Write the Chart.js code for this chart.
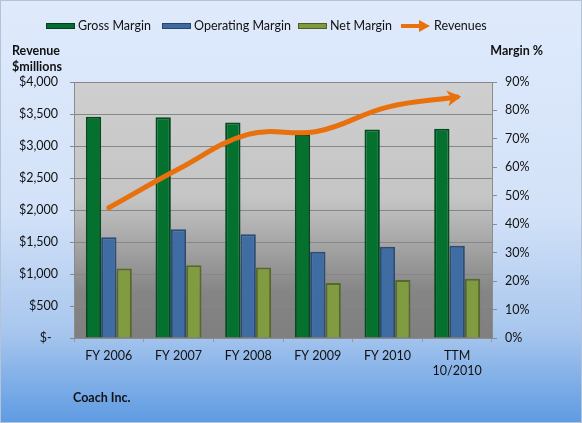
<!DOCTYPE html>
<html>
<head>
<meta charset="utf-8">
<script src="https://cdn.jsdelivr.net/npm/chart.js@4.4.1/dist/chart.umd.min.js"></script>
<style>
  html, body { margin: 0; padding: 0; background: #fff; }
  #wrap { width: 582px; height: 423px; }
</style>
</head>
<body>
<div id="wrap"><canvas id="chart" width="582" height="423"></canvas></div>
<script>
const categories = ['FY 2006', 'FY 2007', 'FY 2008', 'FY 2009', 'FY 2010', ['TTM', '10/2010']];
const grossMargin = [77.8, 77.6, 75.8, 71.7, 73.3, 73.6];
const operatingMargin = [35.4, 38.2, 36.5, 30.3, 32.1, 32.4];
const netMargin = [24.4, 25.6, 24.8, 19.3, 20.4, 20.8];
const revenues = [2035, 2640, 3181, 3230, 3608, 3766];

const FONT = 'Lato, "Open Sans", sans-serif';
const ORANGE = '#e8700d';

// background, titles and legend drawn by hand so they sit where the original has them
const decorPlugin = {
    id: 'decor',
    beforeDraw(chart) {
        const { ctx, width, height, chartArea: a } = chart;
        ctx.save();
        const bg = ctx.createLinearGradient(0, 0, 0, height);
        bg.addColorStop(0, '#dfeafc');
        bg.addColorStop(0.5, '#d3e2f8');
        bg.addColorStop(0.78, '#a9c7ee');
        bg.addColorStop(1, '#5e9be2');
        ctx.fillStyle = bg;
        ctx.fillRect(0, 0, width, height);
        ctx.strokeStyle = '#b4c3d6';
        ctx.lineWidth = 1;
        ctx.strokeRect(0.5, 0.5, width - 1, height - 1);

        const pg = ctx.createLinearGradient(0, a.top, 0, a.bottom);
        pg.addColorStop(0, '#cfcfcf');
        pg.addColorStop(0.45, '#c5c5c5');
        pg.addColorStop(0.82, '#858585');
        pg.addColorStop(1, '#7f7f7f');
        ctx.fillStyle = pg;
        ctx.fillRect(a.left, a.top, a.right - a.left, a.bottom - a.top);
        ctx.restore();
    },
    afterDraw(chart) {
        const { ctx } = chart;
        ctx.save();
        ctx.fillStyle = '#111';
        ctx.textBaseline = 'middle';
        ctx.font = 'bold 12.5px ' + FONT;
        ctx.textAlign = 'left';
        ctx.fillText('Revenue', 12, 51);
        ctx.fillText('$millions', 12, 67);
        ctx.fillText('Coach Inc.', 73, 398);
        ctx.textAlign = 'right';
        ctx.fillText('Margin %', 543, 51);

        // legend
        const items = [
            { x: 46, label: 'Gross Margin', fill: '#046d2f', edge: '#02401b' },
            { x: 162, label: 'Operating Margin', fill: '#3e6aa0', edge: '#27466e' },
            { x: 298, label: 'Net Margin', fill: '#80993f', edge: '#4f5f23' }
        ];
        ctx.font = '12.5px ' + FONT;
        ctx.textAlign = 'left';
        items.forEach(it => {
            ctx.fillStyle = it.fill;
            ctx.fillRect(it.x, 23, 29, 6);
            ctx.strokeStyle = it.edge;
            ctx.lineWidth = 1;
            ctx.strokeRect(it.x + 0.5, 23.5, 28, 5);
            ctx.fillStyle = '#111';
            ctx.fillText(it.label, it.x + 32, 26);
        });
        ctx.strokeStyle = ORANGE;
        ctx.lineWidth = 4;
        ctx.beginPath();
        ctx.moveTo(401, 26);
        ctx.lineTo(422, 26);
        ctx.stroke();
        ctx.fillStyle = ORANGE;
        ctx.beginPath();
        ctx.moveTo(430, 26);
        ctx.lineTo(419, 20);
        ctx.lineTo(419, 32);
        ctx.closePath();
        ctx.fill();
        ctx.fillStyle = '#111';
        ctx.fillText('Revenues', 434, 26);
        ctx.restore();
    }
};

// arrow head at the end of the revenue line
const arrowPlugin = {
    id: 'arrowHead',
    afterDatasetsDraw(chart) {
        const meta = chart.getDatasetMeta(0);
        const pts = meta.data;
        if (!pts.length) return;
        const last = pts[pts.length - 1];
        const cx = last.cp1x !== undefined ? last.cp1x : pts[pts.length - 2].x;
        const cy = last.cp1y !== undefined ? last.cp1y : pts[pts.length - 2].y;
        const ang = Math.atan2(last.y - cy, last.x - cx);
        const { ctx } = chart;
        const tipX = last.x + 4 * Math.cos(ang), tipY = last.y + 4 * Math.sin(ang);
        ctx.save();
        ctx.translate(tipX, tipY);
        ctx.rotate(ang);
        ctx.fillStyle = ORANGE;
        ctx.beginPath();
        ctx.moveTo(0, 0);
        ctx.lineTo(-14, -8);
        ctx.lineTo(-10, 0);
        ctx.lineTo(-14, 8);
        ctx.closePath();
        ctx.fill();
        ctx.restore();
    }
};

function barSet(label, data, fill, edge) {
    return {
        type: 'bar', label, data, yAxisID: 'yR', order: 1,
        backgroundColor: fill, borderColor: edge, borderWidth: 2,
        categoryPercentage: 0.66, barPercentage: 1.0
    };
}

new Chart(document.getElementById('chart').getContext('2d'), {
    data: {
        labels: categories,
        datasets: [
            {
                type: 'line', label: 'Revenues', data: revenues, yAxisID: 'yL', order: 0,
                borderColor: ORANGE, borderWidth: 5, tension: 0.4, pointRadius: 0,
                borderCapStyle: 'round', fill: false
            },
            barSet('Gross Margin', grossMargin, '#04712f', '#034a20'),
            barSet('Operating Margin', operatingMargin, '#3f6ca3', '#2b4c77'),
            barSet('Net Margin', netMargin, '#819c40', '#56692a')
        ]
    },
    options: {
        responsive: false,
        animation: false,
        layout: { padding: { top: 82, left: 0, right: 0, bottom: 0 } },
        plugins: { legend: { display: false }, tooltip: { enabled: false } },
        scales: {
            x: {
                offset: true,
                grid: { drawOnChartArea: false, drawTicks: true, tickLength: 4, color: '#9a9a9a', offset: true },
                border: { color: '#8c8c8c' },
                ticks: { color: '#111', font: { family: FONT, size: 12.5 }, padding: 6, maxRotation: 0 },
                afterFit(s) { s.height = 85; }
            },
            yL: {
                position: 'left', min: 0, max: 4000,
                ticks: {
                    stepSize: 500, color: '#111', font: { family: FONT, size: 12.5 }, padding: 12,
                    callback: v => v === 0 ? '$-  ' : '$' + v.toLocaleString('en-US')
                },
                grid: { color: '#878787', tickLength: 4, lineWidth: 1 },
                border: { color: '#8c8c8c' },
                afterFit(s) { s.width = 74; }
            },
            yR: {
                position: 'right', min: 0, max: 90,
                ticks: {
                    stepSize: 10, color: '#111', font: { family: FONT, size: 12.5 }, padding: 8,
                    callback: v => v + '%'
                },
                grid: { drawOnChartArea: false, tickLength: 5, color: '#8c8c8c' },
                border: { color: '#8c8c8c' },
                afterFit(s) { s.width = 90; }
            }
        }
    },
    plugins: [decorPlugin, arrowPlugin]
});
</script>
</body>
</html>
